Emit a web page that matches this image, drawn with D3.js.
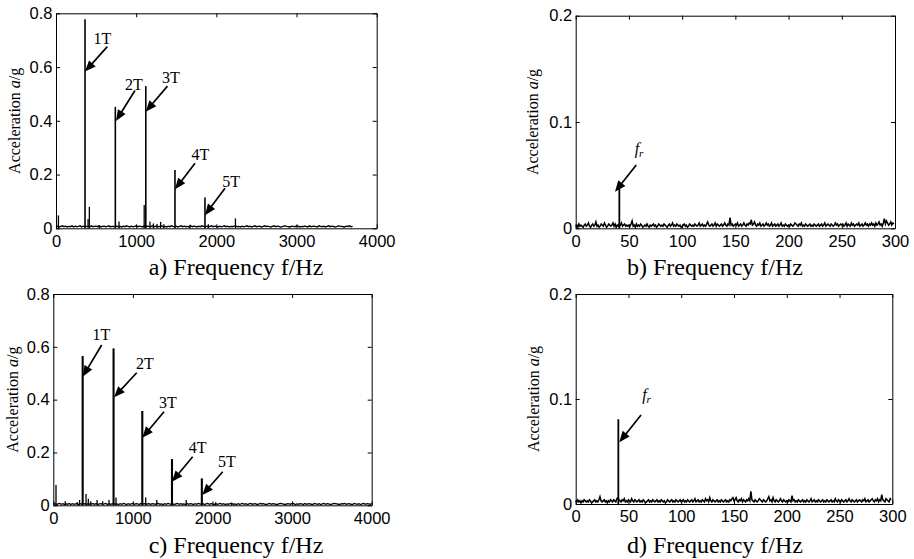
<!DOCTYPE html>
<html><head><meta charset="utf-8">
<script src="https://cdn.jsdelivr.net/npm/d3@7"></script>
<style>body{margin:0;background:#fff}svg{display:block}</style>
</head><body>
<svg id="chart" width="914" height="559"></svg>
<script>
// ---------- DATA ----------
const captions = ["a) Frequency f/Hz", "b) Frequency f/Hz", "c) Frequency f/Hz", "d) Frequency f/Hz"];
const yLabelMain = "Acceleration ";
const yLabelItalic = "a";
const yLabelTail = "/g";

const xTicksWide = [0, 1000, 2000, 3000, 4000];
const xTicksNarrow = [0, 50, 100, 150, 200, 250, 300];
const yTicksWide = [0, 0.2, 0.4, 0.6, 0.8];
const yTicksNarrow = [0, 0.1, 0.2];

// Panel a: main tooth-mesh peaks (Hz, g)
const majorFreqA = [362, 740, 1120, 1484, 1858];
const majorAmpA = [0.778, 0.452, 0.529, 0.217, 0.115];
const minorFreqA = [30, 400, 416, 540, 786, 1100, 1172, 1215, 1260, 1305, 1345, 1671, 1900, 2238];
const minorAmpA = [0.048, 0.035, 0.080, 0.012, 0.025, 0.087, 0.025, 0.018, 0.016, 0.024, 0.015, 0.013, 0.015, 0.037];
// Panel a noise floor, milli-g, every 20 Hz from 0 to 3700 Hz
const noiseA = [
 6,8,5,7,9,6,8,5,7,6,9,5,8,6,7,9,5,8,6,7,8,5,9,6,7,8,6,9,5,7,8,6,7,9,5,8,6,7,8,6,
 7,5,8,6,9,7,5,8,6,7,9,6,8,7,5,9,6,8,7,6,9,5,8,7,6,8,9,6,7,5,8,6,9,7,6,8,5,7,9,6,
 8,6,7,5,9,6,8,7,5,8,6,9,7,6,8,5,7,9,6,8,7,5,8,6,7,9,6,8,5,7,6,8,9,6,7,5,8,6,7,9,
 6,8,5,7,9,6,7,8,5,6,9,7,8,6,5,7,9,6,8,7,5,6,8,9,7,6,5,8,7,6,9,8,5,7,6,8,7,5,9,6,
 7,8,6,5,9,7,6,8,5,7,9,6,8,7,5,6,9,8,7,6,5,8,7,9,6,7];
const noiseStepA = 20;

// Panel c
const majorFreqC = [369, 757, 1118, 1491, 1866];
const majorAmpC = [0.565, 0.594, 0.357, 0.175, 0.102];
const minorFreqC = [34, 150, 300, 330, 411, 440, 470, 550, 620, 700, 788, 1161, 1300, 1670, 2040, 2240];
const minorAmpC = [0.077, 0.015, 0.012, 0.020, 0.043, 0.025, 0.015, 0.020, 0.015, 0.020, 0.030, 0.030, 0.020, 0.020, 0.012, 0.010];
// Panel c noise floor, milli-g, every 20 Hz from 0 to 4000 Hz
const noiseC = [
 4,6,3,5,7,4,6,3,5,4,7,3,6,4,5,7,3,6,4,5,6,3,7,4,5,6,4,7,3,5,6,4,5,7,3,6,4,5,6,4,
 5,3,6,4,7,5,3,6,4,5,7,4,6,5,3,7,4,6,5,4,7,3,6,5,4,6,7,4,5,3,6,4,7,5,4,6,3,5,7,4,
 6,4,5,3,7,4,6,5,3,6,4,7,5,4,6,3,5,7,4,6,5,3,6,4,5,7,4,6,3,5,4,6,7,4,5,3,6,4,5,7,
 4,6,3,5,7,4,5,6,3,4,7,5,6,4,3,5,7,4,6,5,3,4,6,7,5,4,3,6,5,4,7,6,3,5,4,6,5,3,7,4,
 5,6,4,3,7,5,4,6,3,5,7,4,6,5,3,4,7,6,5,4,3,6,5,7,4,5,6,4,3,7,5,4,6,3,5,7,4,6,5,4,6];
const noiseStepC = 20;

// Panel b: rotational frequency peak
const majorFreqB = [41];
const majorAmpB = [0.039];
// Panel b noise floor, milli-g, every 1 Hz from 0 to 299 Hz
const noiseB = [
 2,3,1,4,2,3,2,1,3,4,2,3,5,2,1,3,4,2,3,6,2,3,1,2,4,3,2,5,3,1,2,4,3,2,3,5,2,4,1,3,2,4,3,5,2,3,4,2,3,2,
 3,2,4,7,2,3,1,4,2,3,2,4,3,1,2,3,2,4,2,1,3,2,3,4,2,3,1,2,4,3,2,3,2,4,3,2,1,3,4,2,3,5,2,3,2,4,3,2,3,1,
 2,3,4,2,3,1,2,4,3,2,3,2,4,3,2,3,5,2,3,4,2,3,2,4,6,3,2,3,4,2,3,5,2,4,3,2,3,4,2,3,5,3,2,4,3,10,3,4,2,3,
 4,3,5,2,3,4,2,3,5,3,2,4,3,5,4,8,3,4,6,3,2,4,3,5,2,3,4,2,3,5,3,4,2,3,5,2,3,4,2,3,4,2,3,5,2,3,2,4,3,2,
 3,2,4,3,2,3,5,4,3,2,4,3,5,2,3,2,4,3,2,3,4,2,3,2,4,3,2,3,4,2,3,4,2,3,5,2,3,4,3,2,4,3,2,3,5,3,4,2,3,4,
 3,4,2,3,5,2,4,3,2,5,3,4,2,3,4,3,5,2,3,4,2,3,5,3,4,2,4,3,5,3,4,2,5,3,4,6,3,4,2,5,9,4,7,5,3,4,6,3,5,4];
const noiseStepB = 1;

// Panel d
const majorFreqD = [40.4];
const majorAmpD = [0.0807];
const noiseD = [
 3,2,4,2,3,1,3,2,4,3,2,3,2,4,3,1,2,3,4,2,3,2,4,7,3,2,3,4,2,3,1,3,2,4,3,2,4,3,2,5,6,4,3,2,4,3,5,2,3,2,
 4,3,2,5,3,2,4,3,2,3,4,2,3,2,4,3,1,2,3,4,2,3,2,4,3,2,3,4,2,3,2,4,3,2,3,1,2,4,3,2,3,4,2,3,2,4,3,2,3,4,
 2,3,4,2,3,2,4,3,2,3,4,2,3,5,2,3,4,2,3,2,4,3,2,5,3,4,2,6,3,2,4,3,2,3,4,2,3,2,4,3,2,3,4,2,3,2,4,3,5,6,
 3,4,6,3,2,4,3,5,2,4,3,2,4,3,5,3,12,4,3,2,4,3,2,3,5,4,3,2,4,3,2,3,5,7,3,4,2,6,3,2,4,3,2,3,5,3,2,4,3,2,
 3,2,4,3,2,8,3,4,2,3,2,4,3,2,3,4,2,3,2,4,3,2,3,5,2,3,4,2,3,2,4,3,2,3,4,2,3,2,4,3,2,3,4,2,3,2,5,3,2,4,
 3,2,4,3,2,3,4,2,3,5,3,2,4,3,2,3,4,2,3,4,3,2,4,3,5,2,3,4,2,3,4,5,3,2,4,3,5,2,4,3,9,4,3,2,5,4,3,2,5,4];
const noiseStepD = 1;

// Annotations (data coordinates)
const annLabelsT = ["1T", "2T", "3T", "4T", "5T"];
const annA = {tipF:[362,748,1119,1484,1858], tipA:[0.583,0.399,0.434,0.145,0.049],
  tailF:[640,985,1390,1734,2108], tailA:[0.676,0.513,0.529,0.242,0.149],
  labF:[580,973,1434,1802,2183], labA:[0.686,0.516,0.540,0.254,0.155]};
const annC = {tipF:[369,763,1118,1491,1872], tipA:[0.487,0.409,0.256,0.089,0.039],
  tailF:[608,1048,1391,1751,2128], tailA:[0.607,0.502,0.354,0.184,0.127],
  labF:[603,1152,1441,1812,2182], labA:[0.626,0.515,0.367,0.197,0.146]};
const annB = {tipF:[36.9], tipA:[0.0344], tailF:[56.9], tailA:[0.0595], labF:[59.5], labA:[0.070]};
const annD = {tipF:[41.3], tipA:[0.0588], tailF:[61.9], tailA:[0.0847], labF:[67.1], labA:[0.099]};

// ---------- DRAW ----------
const svg = d3.select("#chart");
const SERIF = "'Liberation Serif','Times New Roman',serif";
const SANS = "'Liberation Sans',Arial,sans-serif";

const panels = [
  {box:[56,376.7,13.3,228.3], xd:[0,4000], yd:[0,0.8], xt:xTicksWide, yt:yTicksWide,
   noise:noiseA, step:noiseStepA, mf:majorFreqA, ma:majorAmpA, nf:minorFreqA, na:minorAmpA,
   ann:annA, annLabels:annLabelsT, fr:false, cap:captions[0], capX:236, capY:275, ylx:20, mw:1.6, nw:1.4},
  {box:[575.7,895,15.7,228.3], xd:[0,300], yd:[0,0.2], xt:xTicksNarrow, yt:yTicksNarrow,
   noise:noiseB, step:noiseStepB, mf:majorFreqB, ma:majorAmpB, nf:[], na:[],
   ann:annB, annLabels:[""], fr:true, cap:captions[1], capX:715, capY:275, ylx:538, mw:1.8, nw:1.5},
  {box:[53.3,371.7,294,505.3], xd:[0,4000], yd:[0,0.8], xt:xTicksWide, yt:yTicksWide,
   noise:noiseC, step:noiseStepC, mf:majorFreqC, ma:majorAmpC, nf:minorFreqC, na:minorAmpC,
   ann:annC, annLabels:annLabelsT, fr:false, cap:captions[2], capX:236, capY:553, ylx:17.5, mw:2.1, nw:1.3},
  {box:[575.7,892.3,294,504], xd:[0,300], yd:[0,0.2], xt:xTicksNarrow, yt:yTicksNarrow,
   noise:noiseD, step:noiseStepD, mf:majorFreqD, ma:majorAmpD, nf:[], na:[],
   ann:annD, annLabels:[""], fr:true, cap:captions[3], capX:715, capY:553, ylx:539, mw:1.8, nw:1.5}
];

function arrow(g, x1, y1, x2, y2) {
  const dx = x2 - x1, dy = y2 - y1, len = Math.hypot(dx, dy);
  const ux = dx / len, uy = dy / len, nx = -uy, ny = ux;
  const L = 11, W = 4.5;
  const bx = x2 - ux * L, by = y2 - uy * L;
  g.append("line").attr("x1", x1).attr("y1", y1).attr("x2", bx + ux*1).attr("y2", by + uy*1)
    .attr("stroke", "#000").attr("stroke-width", 1.7);
  g.append("path").attr("d", `M${x2},${y2}L${bx + nx*W},${by + ny*W}L${bx - nx*W},${by - ny*W}Z`)
    .attr("fill", "#000");
}

panels.forEach(p => {
  const [L, R, T, B] = p.box;
  const x = d3.scaleLinear().domain(p.xd).range([L, R]);
  const y = d3.scaleLinear().domain(p.yd).range([B, T]);
  const g = svg.append("g");

  // noise floor
  const pts = p.noise.map((v, i) => [i * p.step, v / 1000]);
  g.append("path").datum(pts)
    .attr("d", d3.line().x(d => x(d[0])).y(d => y(d[1])))
    .attr("fill", "none").attr("stroke", "#000").attr("stroke-width", p.nw);

  // minor spikes
  p.nf.forEach((f, i) => {
    g.append("line").attr("x1", x(f)).attr("x2", x(f)).attr("y1", y(0)).attr("y2", y(p.na[i]))
      .attr("stroke", "#000").attr("stroke-width", 1.3);
  });
  // major peaks
  p.mf.forEach((f, i) => {
    g.append("line").attr("x1", x(f)).attr("x2", x(f)).attr("y1", y(0)).attr("y2", y(p.ma[i]))
      .attr("stroke", "#000").attr("stroke-width", p.mw);
  });

  // axes (ticks inward on all sides)
  const yFmt = d => d === 0 ? "0" : d3.format(".1f")(d);
  const ax = [
    g.append("g").attr("transform", `translate(0,${B})`)
      .call(d3.axisBottom(x).tickValues(p.xt).tickSize(-4).tickSizeOuter(0).tickPadding(6.5).tickFormat(d3.format("d"))),
    g.append("g").attr("transform", `translate(0,${T})`)
      .call(d3.axisTop(x).tickValues(p.xt).tickSize(-4).tickSizeOuter(0).tickFormat("")),
    g.append("g").attr("transform", `translate(${L},0)`)
      .call(d3.axisLeft(y).tickValues(p.yt).tickSize(-4).tickSizeOuter(0).tickPadding(3.5).tickFormat(yFmt)),
    g.append("g").attr("transform", `translate(${R},0)`)
      .call(d3.axisRight(y).tickValues(p.yt).tickSize(-4).tickSizeOuter(0).tickFormat(""))
  ];
  ax.forEach(a => {
    a.attr("font-family", SANS).attr("font-size", 16.5);
    a.selectAll("path,line").attr("stroke", "#000").attr("stroke-width", 1);
    a.selectAll("text").attr("fill", "#000");
  });

  // annotations
  const an = p.ann;
  an.tipF.forEach((f, i) => {
    arrow(g, x(an.tailF[i]), y(an.tailA[i]), x(f), y(an.tipA[i]));
    const t = g.append("text").attr("x", x(an.labF[i])).attr("y", y(an.labA[i]))
      .attr("text-anchor", "middle").attr("font-family", SERIF).attr("font-size", 16).attr("fill", "#000");
    if (p.fr) {
      t.append("tspan").attr("font-style", "italic").text("f");
      t.append("tspan").attr("font-style", "italic").attr("font-size", 11).attr("dy", 3).text("r");
    } else {
      t.text(p.annLabels[i]);
    }
  });

  // y label
  const yl = g.append("text").attr("transform", `translate(${p.ylx},${(T + B) / 2}) rotate(-90)`)
    .attr("text-anchor", "middle").attr("font-family", SERIF).attr("font-size", 16).attr("fill", "#000");
  yl.append("tspan").text(yLabelMain);
  yl.append("tspan").attr("font-style", "italic").text(yLabelItalic);
  yl.append("tspan").text(yLabelTail);

  // caption
  g.append("text").attr("x", p.capX).attr("y", p.capY).attr("text-anchor", "middle")
    .attr("font-family", SERIF).attr("font-size", 24).attr("fill", "#000").text(p.cap);
});
</script>
</body></html>
